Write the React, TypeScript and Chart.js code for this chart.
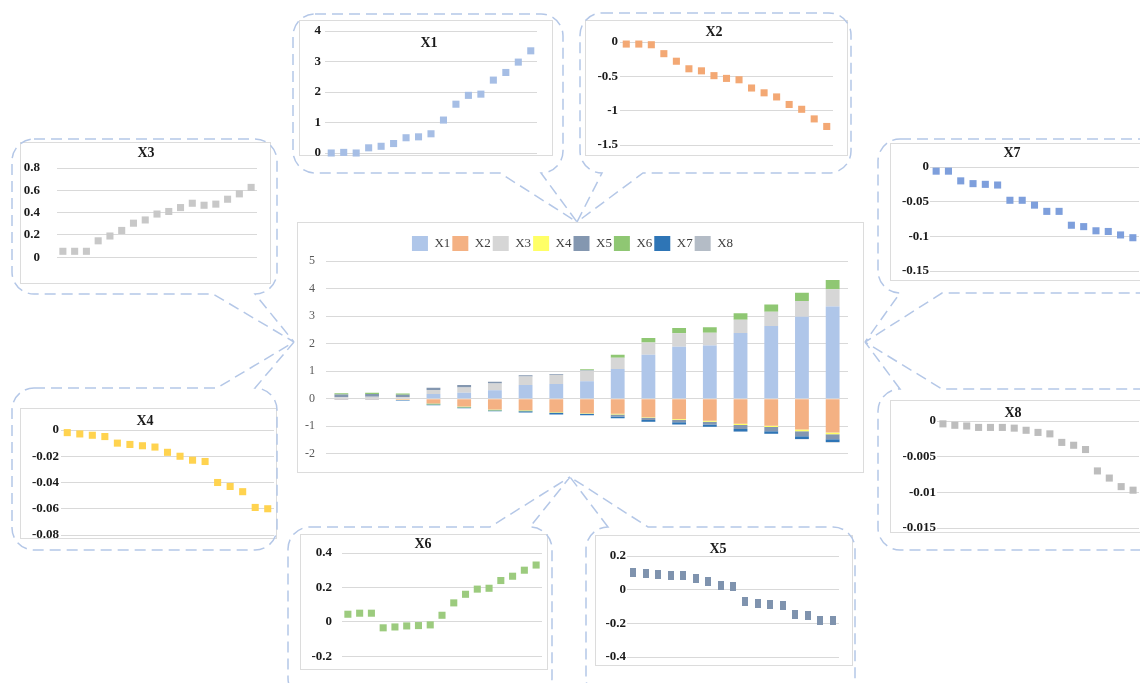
import React, { useEffect, useRef } from 'react';
import { Chart, registerables } from 'chart.js';

Chart.register(...registerables);

// ---------------- DATA ----------------
const categories = ['1', '2', '3', '4', '5', '6', '7', '8', '9', '10', '11', '12', '13', '14', '15', '16', '17'];
const seriesNames = ['X1', 'X2', 'X3', 'X4', 'X5', 'X6', 'X7', 'X8'];

const X1 = [0, 0.02, 0, 0.17, 0.22, 0.31, 0.5, 0.53, 0.63, 1.08, 1.6, 1.89, 1.93, 2.39, 2.64, 2.98, 3.35];
const X2 = [-0.03, -0.03, -0.04, -0.17, -0.28, -0.39, -0.42, -0.49, -0.53, -0.55, -0.67, -0.74, -0.8, -0.91, -0.98, -1.12, -1.23];
const X3 = [0.053, 0.053, 0.053, 0.147, 0.19, 0.24, 0.305, 0.334, 0.387, 0.41, 0.445, 0.484, 0.466, 0.476, 0.52, 0.568, 0.626];
const X4 = [-0.002, -0.003, -0.004, -0.005, -0.01, -0.011, -0.012, -0.013, -0.017, -0.02, -0.023, -0.024, -0.04, -0.043, -0.047, -0.059, -0.06];
const X5 = [0.1, 0.095, 0.09, 0.085, 0.085, 0.067, 0.05, 0.026, 0.018, -0.073, -0.081, -0.089, -0.093, -0.149, -0.156, -0.182, -0.184];
const X6 = [0.044, 0.05, 0.05, -0.035, -0.03, -0.024, -0.022, -0.018, 0.038, 0.11, 0.16, 0.19, 0.195, 0.24, 0.265, 0.3, 0.33];
const X7 = [-0.006, -0.006, -0.02, -0.024, -0.025, -0.026, -0.048, -0.048, -0.055, -0.064, -0.064, -0.084, -0.086, -0.092, -0.093, -0.098, -0.102];
const X8 = [-0.0004, -0.0006, -0.0007, -0.0009, -0.0009, -0.0009, -0.001, -0.0013, -0.0016, -0.0018, -0.003, -0.0034, -0.004, -0.007, -0.008, -0.0092, -0.0097];

const centerTicks = [-2, -1, 0, 1, 2, 3, 4, 5];
const X1Ticks = [0, 1, 2, 3, 4];
const X2Ticks = [-1.5, -1, -0.5, 0];
const X3Ticks = [0, 0.2, 0.4, 0.6, 0.8];
const X4Ticks = [-0.08, -0.06, -0.04, -0.02, 0];
const X5Ticks = [-0.4, -0.2, 0, 0.2];
const X6Ticks = [-0.2, 0, 0.2, 0.4];
const X7Ticks = [-0.15, -0.1, -0.05, 0];
const X8Ticks = [-0.015, -0.01, -0.005, 0];

// ---------------- STYLE ----------------
const SERIF = '"Liberation Serif", "Times New Roman", serif';
const GRID = '#D9D9D9';
const BUBBLE = '#B4C7E7';

const barColors = ['#AFC6E9', '#F4B183', '#D6D6D6', '#FFFF66', '#8497B0', '#8FC773', '#2E75B6', '#B4BCC6'];
const allSeries = [X1, X2, X3, X4, X5, X6, X7, X8];

type SmallCfg = {
  name: string;
  values: number[];
  ticks: number[];
  color: string;
  plot: [number, number, number, number];
  titlePos: [number, number];
  labelPad: number;
  tallMarker?: boolean;
};

const smallCharts: SmallCfg[] = [
  { name: 'X1', values: X1, ticks: X1Ticks, color: '#A6BEE5', plot: [325, 31, 537, 153], titlePos: [429, 43], labelPad: 4 },
  { name: 'X2', values: X2, ticks: X2Ticks, color: '#F3A874', plot: [620, 42, 833, 145], titlePos: [714, 32], labelPad: 2 },
  { name: 'X3', values: X3, ticks: X3Ticks, color: '#C8C8C8', plot: [57, 168, 257, 270], titlePos: [146, 153], labelPad: 17 },
  { name: 'X7', values: X7, ticks: X7Ticks, color: '#7E9FDC', plot: [930, 167, 1139, 271], titlePos: [1012, 153], labelPad: 1 },
  { name: 'X4', values: X4, ticks: X4Ticks, color: '#FFD34F', plot: [61, 430, 274, 535], titlePos: [145, 421], labelPad: 2 },
  { name: 'X8', values: X8, ticks: X8Ticks, color: '#BDBDBD', plot: [937, 421, 1139, 528], titlePos: [1013, 413], labelPad: 1 },
  { name: 'X6', values: X6, ticks: X6Ticks, color: '#9CCB7E', plot: [342, 553, 542, 662], titlePos: [423, 544], labelPad: 10 },
  { name: 'X5', values: X5, ticks: X5Ticks, color: '#7F93AE', plot: [627, 556, 839, 657], titlePos: [718, 549], labelPad: 1, tallMarker: true },
];

type Tail = { side: 'top' | 'bottom'; xa: number; xb: number; tip: [number, number] };
const bubbles: { box: [number, number, number, number]; tail: Tail }[] = [
  { box: [293, 14, 563, 173], tail: { side: 'bottom', xa: 500, xb: 541, tip: [577, 222] } },
  { box: [580, 13, 851, 173], tail: { side: 'bottom', xa: 602, xb: 643, tip: [577, 222] } },
  { box: [12, 139, 277, 294], tail: { side: 'bottom', xa: 213, xb: 255, tip: [294, 342] } },
  { box: [12, 388, 277, 550], tail: { side: 'top', xa: 217, xb: 255, tip: [294, 342] } },
  { box: [878, 139, 1160, 293], tail: { side: 'bottom', xa: 900, xb: 942, tip: [865, 342] } },
  { box: [878, 389, 1160, 550], tail: { side: 'top', xa: 900, xb: 942, tip: [865, 342] } },
  { box: [288, 527, 552, 700], tail: { side: 'top', xa: 490, xb: 530, tip: [570, 477] } },
  { box: [586, 527, 855, 700], tail: { side: 'top', xa: 608, xb: 648, tip: [570, 477] } },
];

const frames: [number, number, number, number][] = [
  [299, 20, 552, 155],
  [585, 20, 847, 155],
  [20, 142, 270, 283],
  [890, 143, 1145, 280],
  [20, 408, 276, 538],
  [890, 400, 1145, 532],
  [300, 534, 547, 669],
  [595, 535, 852, 665],
  [297, 222, 863, 472],
];

function bubblePath(box: [number, number, number, number], tail: Tail, rad = 22): string {
  const [l, t, r, b] = box;
  let d = `M ${l + rad} ${t} `;
  if (tail.side === 'top') {
    d += `L ${tail.xa} ${t} L ${tail.tip[0]} ${tail.tip[1]} L ${tail.xb} ${t} `;
  }
  d += `L ${r - rad} ${t} A ${rad} ${rad} 0 0 1 ${r} ${t + rad} L ${r} ${b - rad} A ${rad} ${rad} 0 0 1 ${r - rad} ${b} `;
  if (tail.side === 'bottom') {
    d += `L ${tail.xb} ${b} L ${tail.tip[0]} ${tail.tip[1]} L ${tail.xa} ${b} `;
  }
  d += `L ${l + rad} ${b} A ${rad} ${rad} 0 0 1 ${l} ${b - rad} L ${l} ${t + rad} A ${rad} ${rad} 0 0 1 ${l + rad} ${t} Z`;
  return d;
}

const fmt = (v: number | string) => String(Math.round(Number(v) * 1e6) / 1e6);

const titleAtPlugin = {
  id: 'titleAt',
  afterDraw(chart: any, _args: any, opts: any) {
    if (!opts || !opts.text) return;
    const ctx = chart.ctx;
    ctx.save();
    ctx.font = 'bold 14px ' + SERIF;
    ctx.fillStyle = '#1a1a1a';
    ctx.textAlign = 'center';
    ctx.textBaseline = 'middle';
    ctx.fillText(opts.text, opts.x, opts.y);
    ctx.restore();
  },
};

const PAD_L = 70, PAD_T = 32, PAD_R = 8, PAD_B = 12;

function SmallChart({ cfg }: { cfg: SmallCfg }) {
  const ref = useRef<HTMLCanvasElement>(null);
  const left = cfg.plot[0] - PAD_L;
  const top = cfg.plot[1] - PAD_T;
  const w = cfg.plot[2] + PAD_R - left;
  const h = cfg.plot[3] + PAD_B - top;
  useEffect(() => {
    if (!ref.current) return;
    let pointStyle: any = 'rect';
    if (cfg.tallMarker) {
      const c = document.createElement('canvas');
      c.width = 6; c.height = 9;
      const cx = c.getContext('2d')!;
      cx.fillStyle = cfg.color;
      cx.fillRect(0, 0, 6, 9);
      pointStyle = c;
    }
    const tk = cfg.ticks;
    const chart = new Chart(ref.current, {
      type: 'line',
      data: {
        labels: categories,
        datasets: [{
          data: cfg.values,
          showLine: false,
          pointStyle,
          pointRadius: 5,
          pointHoverRadius: 5,
          pointBackgroundColor: cfg.color,
          pointBorderColor: cfg.color,
          pointBorderWidth: 0,
          clip: false as any,
        }],
      },
      options: {
        animation: false,
        responsive: false,
        maintainAspectRatio: false,
        events: [],
        layout: { padding: { left: 0, top: PAD_T, right: PAD_R, bottom: PAD_B } },
        plugins: {
          legend: { display: false },
          tooltip: { enabled: false },
          titleAt: { text: cfg.name, x: cfg.titlePos[0] - left, y: cfg.titlePos[1] - top },
        } as any,
        scales: {
          x: { display: false, offset: true },
          y: {
            min: tk[0],
            max: tk[tk.length - 1],
            ticks: {
              stepSize: tk[1] - tk[0],
              padding: cfg.labelPad,
              color: '#1a1a1a',
              font: { family: SERIF, size: 13, weight: 'bold' },
              callback: (v: any) => fmt(v),
            },
            grid: { color: GRID, drawTicks: false, lineWidth: 1 },
            border: { display: false },
            afterFit: (s: any) => { s.width = PAD_L; },
          } as any,
        },
      },
      plugins: [titleAtPlugin],
    });
    return () => chart.destroy();
  }, []);
  return (
    <canvas
      ref={ref}
      width={w}
      height={h}
      style={{ position: 'absolute', left, top, width: w, height: h }}
    />
  );
}

function CenterChart() {
  const ref = useRef<HTMLCanvasElement>(null);
  const left = 297, top = 222, w = 566, h = 250;
  useEffect(() => {
    if (!ref.current) return;
    const chart = new Chart(ref.current, {
      type: 'bar',
      data: {
        labels: categories,
        datasets: seriesNames.map((n, i) => ({
          label: n,
          data: allSeries[i],
          backgroundColor: barColors[i],
          borderWidth: 0,
          barPercentage: 0.45,
          categoryPercentage: 1,
        })),
      },
      options: {
        animation: false,
        responsive: false,
        maintainAspectRatio: false,
        events: [],
        layout: { padding: { left: 0, top: 12, right: 15, bottom: 9 } },
        plugins: {
          tooltip: { enabled: false },
          legend: {
            display: true,
            position: 'top',
            labels: {
              boxWidth: 16,
              boxHeight: 15,
              padding: 2,
              color: '#404040',
              font: { family: SERIF, size: 13 },
            },
          },
        },
        scales: {
          x: { display: false, stacked: true, offset: true },
          y: {
            stacked: true,
            min: centerTicks[0],
            max: centerTicks[centerTicks.length - 1],
            ticks: {
              stepSize: centerTicks[1] - centerTicks[0],
              padding: 11,
              color: '#595959',
              font: { family: SERIF, size: 12 },
            },
            grid: { color: GRID, drawTicks: false },
            border: { display: false },
            afterFit: (s: any) => { s.width = 29; },
          } as any,
        },
      },
    });
    return () => chart.destroy();
  }, []);
  return (
    <canvas
      ref={ref}
      width={w}
      height={h}
      style={{ position: 'absolute', left, top, width: w, height: h }}
    />
  );
}

export default function App() {
  return (
    <div style={{ position: 'absolute', left: 0, top: 0, width: 1140, height: 683, overflow: 'hidden', background: '#ffffff' }}>
      <svg width={1140} height={683} style={{ position: 'absolute', left: 0, top: 0 }}>
        {frames.map((f, i) => (
          <rect key={'f' + i} x={f[0] + 0.5} y={f[1] + 0.5} width={f[2] - f[0]} height={f[3] - f[1]} fill="none" stroke="#DCDCDC" strokeWidth={1} />
        ))}
        {bubbles.map((b, i) => (
          <path key={'b' + i} d={bubblePath(b.box, b.tail)} fill="none" stroke={BUBBLE} strokeWidth={1.5} strokeDasharray="11 6" />
        ))}
      </svg>
      <CenterChart />
      {smallCharts.map((c) => (
        <SmallChart key={c.name} cfg={c} />
      ))}
    </div>
  );
}
